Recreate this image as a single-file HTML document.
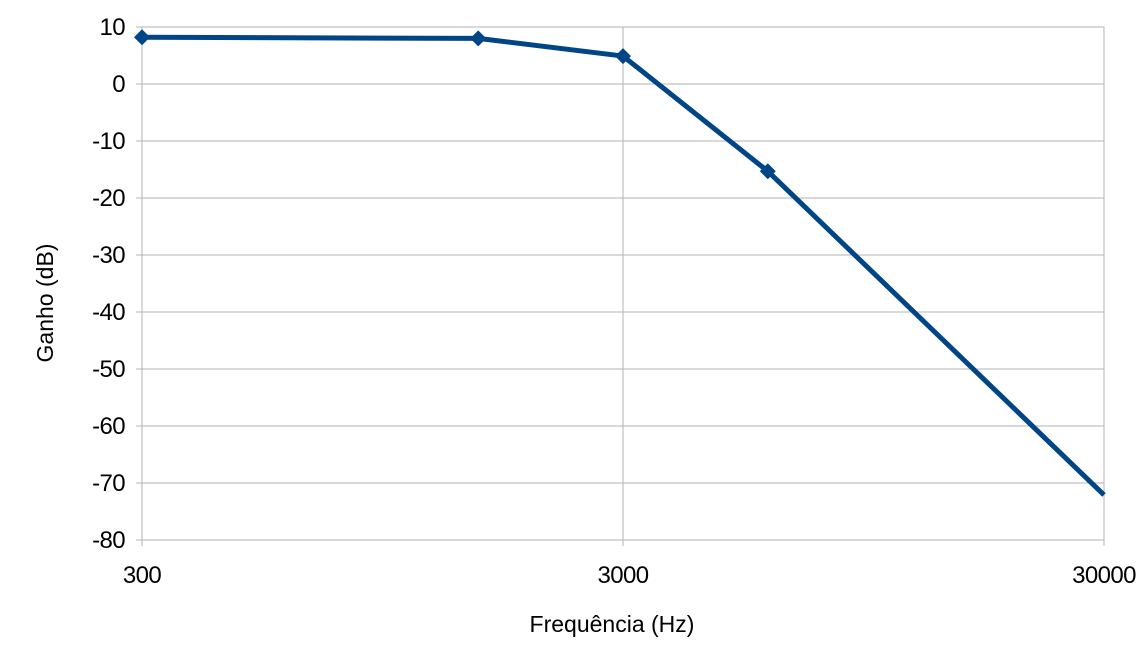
<!DOCTYPE html>
<html><head><meta charset="utf-8"><style>
body{margin:0;background:#fff;}
svg{display:block;font-family:"Liberation Sans",sans-serif;}
</style></head><body>
<svg id="chart" width="1147" height="649" viewBox="0 0 1147 649"></svg>
<script>
const freqs=[300,1500,3000,6000,30000];
const gains=[8.2,8.0,4.9,-15.3,-72.1];
const showMarker=[true,true,true,true,false];
const yTicks=[10,0,-10,-20,-30,-40,-50,-60,-70,-80];
const xTicks=[300,3000,30000];

const X0=142,X1=1104,Y0=27,Y1=540;
const lmin=Math.log10(300),lmax=Math.log10(30000);
const xs=f=>X0+(Math.log10(f)-lmin)/(lmax-lmin)*(X1-X0);
const ys=v=>Y0+(10-v)/90*(Y1-Y0);
const svg=document.getElementById('chart');
const NS='http://www.w3.org/2000/svg';
function mk(t,a,p){const e=document.createElementNS(NS,t);for(const k in a)e.setAttribute(k,a[k]);(p||svg).appendChild(e);return e;}

yTicks.forEach(v=>{
  const l=mk('line',{x1:X0,x2:X1,y1:ys(v),y2:ys(v),stroke:'#b3b3b3','stroke-width':1});
  
  
  const tk=mk('line',{x1:X0-6,x2:X0,y1:ys(v),y2:ys(v),stroke:'#b3b3b3'});
  
  
  const t=mk('text',{x:X0-17,y:ys(v)+8,'text-anchor':'end','font-size':24,'letter-spacing':-0.6,fill:'#000'});
  t.textContent=v;
  
  
});
xTicks.forEach(f=>{
  const l=mk('line',{x1:xs(f),x2:xs(f),y1:Y0,y2:Y1+6,stroke:'#b3b3b3','stroke-width':1});
  
  
  const t=mk('text',{x:xs(f),y:583,'text-anchor':'middle','font-size':24,'letter-spacing':-0.6,fill:'#000'});
  t.textContent=f;
  
  
});
const pts=freqs.map((f,i)=>xs(f)+','+ys(gains[i])).join(' ');
const line=mk('polyline',{points:pts,fill:'none',stroke:'#004586','stroke-width':5,'stroke-linejoin':'round'});


freqs.forEach((f,i)=>{
  if(!showMarker[i])return;
  const x=xs(f),y=ys(gains[i]);
  const m=mk('polygon',{points:`${x},${y-8} ${x+8},${y} ${x},${y+8} ${x-8},${y}`,fill:'#004586'});
  
  
});
const xt=mk('text',{x:612,y:632,'text-anchor':'middle','font-size':23,fill:'#000'});
xt.textContent='Frequência (Hz)';


const yt=mk('text',{x:0,y:0,'text-anchor':'middle','font-size':23,fill:'#000',transform:'translate(53,303) rotate(-90)'});
yt.textContent='Ganho (dB)';


</script>
</body></html>
